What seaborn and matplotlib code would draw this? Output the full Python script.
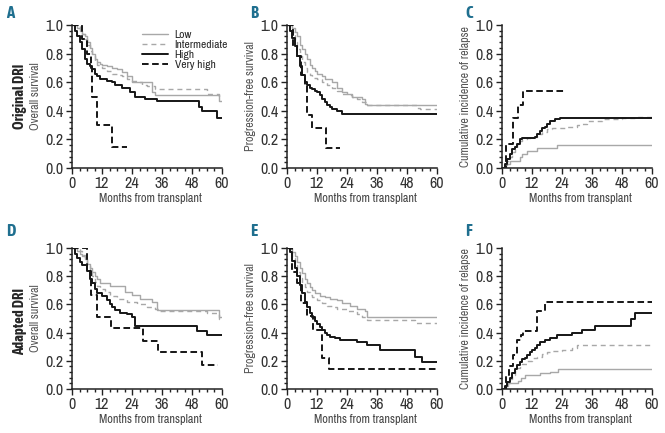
import pandas as pd
import matplotlib
matplotlib.use("Agg")
import matplotlib.pyplot as plt
import seaborn as sns
from matplotlib import font_manager
from matplotlib.ticker import MultipleLocator, AutoMinorLocator, FormatStrFormatter

# --------------------------------------------------
# Data
# --------------------------------------------------

groups = ["Low", "Intermediate", "High", "Very high"]

# A - overall survival, original DRI
a_low_t = [0, 2, 3, 4, 5, 6, 7, 8, 9, 10, 11, 12, 14, 16, 18, 20, 22, 24, 32, 33, 59, 60]
a_low_y = [1, 0.98, 0.96, 0.94, 0.92, 0.88, 0.84, 0.80, 0.76, 0.74, 0.73, 0.72, 0.71, 0.70, 0.69, 0.67, 0.64, 0.60, 0.53, 0.51, 0.47, 0.47]
a_int_t = [0, 3, 4, 5, 6, 7, 8, 9, 10, 12, 14, 16, 18, 20, 22, 24, 26, 28, 30, 33, 54, 59, 60]
a_int_y = [1, 0.97, 0.94, 0.90, 0.86, 0.82, 0.78, 0.75, 0.72, 0.70, 0.68, 0.66, 0.65, 0.64, 0.62, 0.61, 0.60, 0.58, 0.57, 0.55, 0.52, 0.50, 0.50]
a_high_t = [0, 1, 2, 3, 4, 5, 6, 7, 8, 9, 10, 11, 14, 16, 17, 20, 23, 25, 29, 34, 51, 52, 58, 60]
a_high_y = [1, 0.96, 0.92, 0.88, 0.83, 0.76, 0.73, 0.71, 0.69, 0.66, 0.64, 0.62, 0.61, 0.60, 0.58, 0.56, 0.53, 0.50, 0.48, 0.47, 0.43, 0.40, 0.35, 0.35]
a_vh_t = [0, 4, 6, 7.5, 8, 10, 16, 22]
a_vh_y = [1, 0.90, 0.80, 0.70, 0.50, 0.30, 0.15, 0.15]

# B - progression-free survival, original DRI
b_low_t = [0, 2, 3, 4, 5, 6, 7, 8, 9, 10, 11, 12, 14, 15, 18, 20, 22, 24, 26, 30, 31, 32, 60]
b_low_y = [1, 0.98, 0.95, 0.92, 0.86, 0.83, 0.80, 0.76, 0.72, 0.70, 0.68, 0.66, 0.64, 0.62, 0.60, 0.56, 0.53, 0.52, 0.50, 0.48, 0.45, 0.44, 0.44]
b_int_t = [0, 2, 3, 4, 5, 6, 7, 8, 9, 10, 12, 14, 16, 18, 20, 22, 24, 26, 28, 30, 32, 52, 53, 60]
b_int_y = [1, 0.95, 0.88, 0.83, 0.78, 0.74, 0.70, 0.67, 0.65, 0.63, 0.62, 0.60, 0.58, 0.56, 0.54, 0.52, 0.51, 0.50, 0.48, 0.46, 0.44, 0.42, 0.41, 0.41]
b_high_t = [0, 1, 2, 3, 4, 5, 6, 7, 8, 9, 10, 11, 12, 13, 14, 15, 16, 17, 18, 20, 22, 60]
b_high_y = [1, 0.96, 0.91, 0.85, 0.78, 0.71, 0.65, 0.60, 0.58, 0.56, 0.55, 0.54, 0.53, 0.51, 0.48, 0.46, 0.44, 0.43, 0.41, 0.40, 0.38, 0.38]
b_vh_t = [0, 2.3, 4, 5.6, 7, 8, 10, 15.4, 21]
b_vh_y = [1, 0.85, 0.78, 0.65, 0.58, 0.37, 0.28, 0.14, 0.14]

# C - cumulative incidence of relapse, original DRI
c_low_t = [0, 1, 2, 3, 5, 7, 8, 10, 14, 22, 60]
c_low_y = [0, 0.02, 0.03, 0.05, 0.05, 0.08, 0.10, 0.12, 0.14, 0.16, 0.16]
c_int_t = [0, 1, 2, 3, 4, 5, 6, 7, 8, 10, 12, 14, 16, 18, 20, 26, 30, 32, 34, 40, 48, 54, 60]
c_int_y = [0, 0.02, 0.05, 0.08, 0.11, 0.14, 0.17, 0.19, 0.20, 0.21, 0.22, 0.24, 0.25, 0.27, 0.28, 0.29, 0.30, 0.31, 0.33, 0.34, 0.35, 0.36, 0.37]
c_high_t = [0, 1, 2, 3, 4, 5, 6, 7, 8, 12, 13, 14, 15, 16, 17, 18, 19, 21, 23, 60]
c_high_y = [0, 0.03, 0.06, 0.10, 0.13, 0.15, 0.17, 0.20, 0.21, 0.21, 0.22, 0.24, 0.26, 0.28, 0.29, 0.31, 0.33, 0.34, 0.35, 0.35]
c_vh_t = [0, 1.7, 4.3, 6.3, 8.2, 25]
c_vh_y = [0, 0.17, 0.35, 0.44, 0.54, 0.54]

# D - overall survival, adapted DRI
d_low_t = [0, 2, 3, 4, 5, 6, 7, 8, 9, 10, 11, 15, 21, 24, 27, 32, 34, 59, 60]
d_low_y = [1, 0.98, 0.96, 0.94, 0.92, 0.89, 0.86, 0.83, 0.80, 0.78, 0.75, 0.73, 0.69, 0.67, 0.64, 0.62, 0.56, 0.51, 0.51]
d_int_t = [0, 3, 4, 5, 6, 7, 8, 9, 10, 11, 13, 15, 18, 22, 26, 30, 33, 35, 54, 59, 60]
d_int_y = [1, 0.98, 0.95, 0.92, 0.88, 0.84, 0.80, 0.76, 0.73, 0.71, 0.69, 0.66, 0.64, 0.62, 0.60, 0.58, 0.57, 0.555, 0.54, 0.50, 0.50]
d_high_t = [0, 1, 2, 3, 4, 6, 7, 8, 9, 10, 12, 14, 15, 16, 17, 19, 22, 24, 25, 50, 54, 60]
d_high_y = [1, 0.96, 0.93, 0.90, 0.88, 0.84, 0.78, 0.75, 0.71, 0.68, 0.66, 0.63, 0.60, 0.58, 0.56, 0.54, 0.53, 0.51, 0.45, 0.41, 0.38, 0.38]
d_vh_t = [0, 6, 7.5, 10, 15.5, 28.5, 34.5, 52, 58.5]
d_vh_y = [1, 0.84, 0.67, 0.51, 0.43, 0.34, 0.26, 0.17, 0.17]

# E - progression-free survival, adapted DRI
e_low_t = [0, 2, 3, 4, 5, 6, 7, 8, 9, 10, 11, 13, 15, 17, 20, 22, 25, 28, 31, 32, 60]
e_low_y = [1, 0.97, 0.94, 0.90, 0.86, 0.82, 0.78, 0.75, 0.72, 0.70, 0.68, 0.66, 0.65, 0.64, 0.63, 0.61, 0.59, 0.57, 0.55, 0.51, 0.51]
e_int_t = [0, 1, 2, 3, 4, 5, 6, 7, 8, 9, 10, 12, 14, 16, 18, 20, 24, 28, 30, 32, 51, 60]
e_int_y = [1, 0.97, 0.93, 0.88, 0.83, 0.79, 0.75, 0.72, 0.69, 0.67, 0.65, 0.63, 0.61, 0.59, 0.58, 0.57, 0.55, 0.53, 0.51, 0.49, 0.47, 0.47]
e_high_t = [0, 1, 2, 3, 4, 5, 6, 7, 8, 9, 10, 11, 12, 13, 14, 15, 16, 17, 19, 21, 28, 32, 37, 51, 54, 60]
e_high_y = [1, 0.97, 0.91, 0.86, 0.80, 0.74, 0.68, 0.62, 0.58, 0.54, 0.51, 0.48, 0.46, 0.44, 0.42, 0.40, 0.38, 0.37, 0.36, 0.35, 0.33, 0.31, 0.28, 0.23, 0.19, 0.19]
e_vh_t = [0, 2, 4, 5.5, 8, 10.5, 14, 16.8, 60]
e_vh_y = [1, 0.83, 0.75, 0.61, 0.52, 0.42, 0.22, 0.14, 0.14]

# F - cumulative incidence of relapse, adapted DRI
f_low_t = [0, 1.5, 2.5, 6.5, 7.5, 9, 15, 19, 22.5, 60]
f_low_y = [0, 0.02, 0.04, 0.06, 0.08, 0.10, 0.11, 0.12, 0.14, 0.14]
f_int_t = [0, 1, 2, 3, 4, 5, 6, 7, 8, 10, 12, 14, 16, 18, 20, 24, 28, 30, 60]
f_int_y = [0, 0.02, 0.04, 0.07, 0.10, 0.13, 0.15, 0.17, 0.18, 0.20, 0.22, 0.23, 0.25, 0.26, 0.27, 0.28, 0.29, 0.31, 0.31]
f_high_t = [0, 1, 2, 3, 4, 5, 6, 7, 8, 9, 10, 11, 12, 13, 14, 15, 17, 19, 22, 28, 32, 37, 51.5, 53, 60]
f_high_y = [0, 0.02, 0.05, 0.08, 0.11, 0.14, 0.17, 0.19, 0.21, 0.22, 0.24, 0.26, 0.28, 0.29, 0.31, 0.33, 0.35, 0.36, 0.38, 0.40, 0.42, 0.45, 0.50, 0.54, 0.54]
f_vh_t = [0, 1.7, 2.7, 4.2, 6, 7.7, 8.4, 13.9, 17, 60]
f_vh_y = [0, 0.10, 0.16, 0.24, 0.35, 0.38, 0.41, 0.55, 0.62, 0.62]


def curves(*pairs):
    frames = []
    for g, (t, y) in zip(groups, pairs):
        frames.append(pd.DataFrame({"month": t, "value": y, "group": g}))
    return pd.concat(frames, ignore_index=True)


panels = [
    ("A", "Overall survival", curves((a_low_t, a_low_y), (a_int_t, a_int_y), (a_high_t, a_high_y), (a_vh_t, a_vh_y))),
    ("B", "Progression-free survival", curves((b_low_t, b_low_y), (b_int_t, b_int_y), (b_high_t, b_high_y), (b_vh_t, b_vh_y))),
    ("C", "Cumulative incidence of relapse", curves((c_low_t, c_low_y), (c_int_t, c_int_y), (c_high_t, c_high_y), (c_vh_t, c_vh_y))),
    ("D", "Overall survival", curves((d_low_t, d_low_y), (d_int_t, d_int_y), (d_high_t, d_high_y), (d_vh_t, d_vh_y))),
    ("E", "Progression-free survival", curves((e_low_t, e_low_y), (e_int_t, e_int_y), (e_high_t, e_high_y), (e_vh_t, e_vh_y))),
    ("F", "Cumulative incidence of relapse", curves((f_low_t, f_low_y), (f_int_t, f_int_y), (f_high_t, f_high_y), (f_vh_t, f_vh_y))),
]

# --------------------------------------------------
# Styling
# --------------------------------------------------

sns.set_style("ticks")

# the original uses a condensed sans; take what the system has
installed = {f.name for f in font_manager.fontManager.ttflist}


def first_font(names):
    for n in names:
        if n in installed:
            return n
    return "DejaVu Sans"


regular_font = first_font(["Liberation Sans Narrow", "Archivo Narrow", "Asap Condensed"])
bold_font = first_font(["Liberation Sans Narrow", "Asap Condensed", "Barlow Semi Condensed"])
plt.rcParams["font.family"] = [regular_font, "DejaVu Sans"]

gray = "#a8a8a8"
black = "#161616"
palette = {"Low": gray, "Intermediate": gray, "High": black, "Very high": black}
dashes = {"Low": "", "Intermediate": (3.6, 2.8), "High": "", "Very high": (3.4, 1.8)}
sizes = {"Low": 1.0, "Intermediate": 1.0, "High": 1.4, "Very high": 1.4}
letter_color = "#1f6f8f"

W, H = 665, 433
fig = plt.figure(figsize=(W / 100, H / 100), dpi=100)

# axes rectangles in pixels: left edges, (top, bottom) per row
lefts = [72, 287, 502]
rows = [(25, 168), (248, 389)]

for i, (letter, ylabel, df) in enumerate(panels):
    r, c = divmod(i, 3)
    left = lefts[c]
    top, bottom = rows[r]
    ax = fig.add_axes([left / W, 1 - bottom / H, 150 / W, (bottom - top) / H])

    sns.lineplot(
        data=df, x="month", y="value",
        hue="group", style="group", size="group",
        hue_order=groups, style_order=groups, size_order=groups,
        palette=palette, dashes=dashes, sizes=sizes,
        estimator=None, drawstyle="steps-post",
        legend=False, ax=ax
    )

    ax.set_xlim(0, 60)
    ax.set_ylim(0, 1.0)
    ax.xaxis.set_major_locator(MultipleLocator(12))
    ax.xaxis.set_minor_locator(MultipleLocator(3))
    ax.yaxis.set_major_locator(MultipleLocator(0.2))
    ax.yaxis.set_minor_locator(AutoMinorLocator(5))
    ax.yaxis.set_major_formatter(FormatStrFormatter("%.1f"))
    ax.tick_params(which="major", direction="out", length=4, width=1, labelsize=11.5,
                   colors="#222222", labelcolor="#333333", pad=2)
    ax.tick_params(which="minor", direction="out", length=2.5, width=1, colors="#222222")
    sns.despine(ax=ax)
    for s in ("left", "bottom"):
        ax.spines[s].set_linewidth(1.1)
        ax.spines[s].set_color("#222222")

    ax.set_xlabel("Months from transplant", fontsize=8.8, color="#444444")
    ax.set_ylabel(ylabel, fontsize=8.6, color="#555555")
    ax.xaxis.set_label_coords(0.52, -0.175)
    ax.yaxis.set_label_coords(-0.205, 0.5)

    lx = 6 if c == 0 else left - 37
    ly = 13 if r == 0 else 231
    fig.text(lx / W, 1 - ly / H, letter, fontsize=12, fontweight="bold",
             family=[bold_font, "DejaVu Sans"], color=letter_color, va="center", ha="left")

    if i == 0:
        ax.legend(ax.lines[:4], groups, loc="upper right", bbox_to_anchor=(1.07, 1.0),
                  frameon=False, fontsize=8.3, handlelength=2.2, handletextpad=0.6,
                  labelspacing=0.0, borderaxespad=0)

fig.text(20 / W, 1 - 96 / H, "Original DRI", rotation=90, fontsize=10.5,
         fontweight="bold", family=[bold_font, "DejaVu Sans"], ha="center", va="center")
fig.text(20 / W, 1 - 321 / H, "Adapted DRI", rotation=90, fontsize=10.5,
         fontweight="bold", family=[bold_font, "DejaVu Sans"], ha="center", va="center")

fig.savefig("out.png", dpi=100)
